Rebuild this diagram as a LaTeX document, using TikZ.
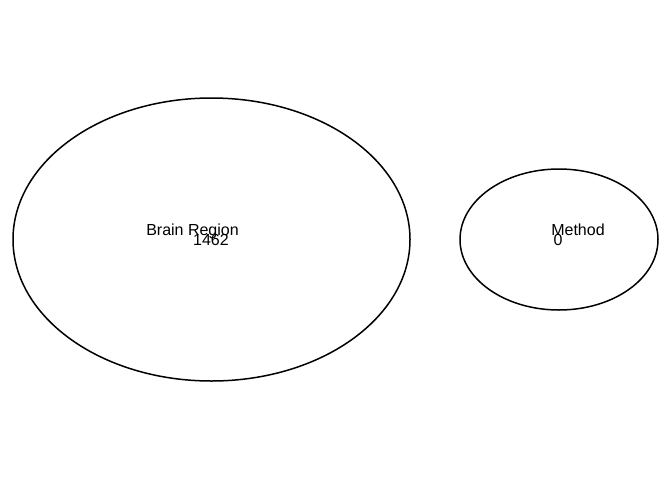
\documentclass[tikz,border=0pt]{standalone}
\usepackage{fontspec}
\setmainfont{Liberation Sans}
\begin{document}
\begin{tikzpicture}[x=1pt,y=-1pt,line width=1.5pt]
\useasboundingbox (0,0) rectangle (672,480);
\coordinate (c1) at (211.5,239.5); \coordinate (c2) at (559,239.5);
\draw (c1) ellipse [x radius=198.5pt, y radius=141.5pt];
\draw (c2) ellipse [x radius=99pt, y radius=70.5pt];
\node[anchor=base,inner sep=0pt,font=\fontsize{16}{18}\selectfont] (lab1) at (192.5,235) {Brain Region};
\node[anchor=base,inner sep=0pt,font=\fontsize{16}{18}\selectfont] (num1) at (211,245.5) {1462};
\node[anchor=base,inner sep=0pt,font=\fontsize{16}{18}\selectfont] (lab2) at (578,235) {Method};
\node[anchor=base,inner sep=0pt,font=\fontsize{16}{18}\selectfont] (num2) at (558,245.5) {0};
\end{tikzpicture}
\end{document}
